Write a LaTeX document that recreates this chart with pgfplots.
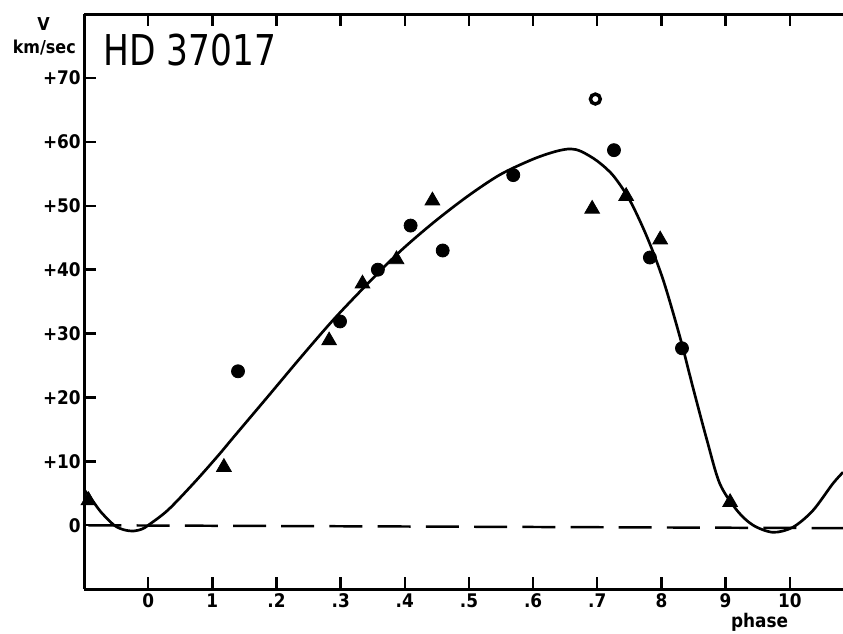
\documentclass[border=0pt]{standalone}
\usepackage{fontspec}
\setmainfont{DejaVu Sans Condensed}
\newfontfamily\titlefont[FakeStretch=0.9]{DejaVu Sans Condensed}
\usepackage{pgfplots}
\pgfplotsset{compat=1.18}

\begin{document}
\begin{tikzpicture}
% page frame: same proportions as the scanned figure
\path[use as bounding box] (-1.495,-0.783) rectangle (13.5,10.48);
\begin{axis}[
    scale only axis,
    width=13.5cm, height=10.23cm,
    xmin=-0.1, xmax=1.083,
    ymin=-10, ymax=80,
    separate axis lines,
    axis x line=box, axis y line=left,
    axis line style={-, line width=1.5pt},
    tick align=inside,
    major tick length=0.21cm,
    tick style={line width=1.2pt, black},
    xtick={0,0.1,0.2,0.3,0.4,0.5,0.6,0.7,0.8,0.9,1.0},
    xticklabels={0,1,.2,.3,.4,.5,.6,.7,8,9,10},
    xtick pos=both,
    ytick={0,10,20,30,40,50,60,70},
    yticklabels={0,+10,+20,+30,+40,+50,+60,+70},
    ytick pos=left,
    ticklabel style={font=\bfseries\fontsize{9.5}{11}\selectfont},
    yticklabel style={inner sep=1.5pt},
    xticklabel style={inner sep=2pt},
    /pgf/number format/assume math mode=true,
    clip=false,
]

% fitted velocity curve
\addplot[smooth, tension=0.5, line width=1.35pt, black] coordinates {
(-0.1,5.6) (-0.085,3.6) (-0.073,2.0) (-0.053,0.0) (-0.038,-0.7)
(-0.023,-0.9) (-0.010,-0.6) (0.0,0.0) (0.031,2.4) (0.072,6.7)
(0.109,10.9) (0.134,13.9) (0.187,20.2) (0.238,26.3) (0.289,32.2)
(0.342,37.8) (0.393,42.9) (0.445,47.4) (0.498,51.5) (0.549,54.9)
(0.600,57.3) (0.635,58.5) (0.658,58.9) (0.675,58.5) (0.700,57.0)
(0.725,54.7) (0.751,50.8) (0.778,45.0) (0.803,38.3) (0.829,29.4)
(0.849,21.6) (0.871,13.3) (0.891,6.5) (0.918,2.3) (0.943,0.0)
(0.974,-1.1) (1.005,-0.3) (1.036,2.3) (1.067,6.5) (1.083,8.3)
};

% zero line
\addplot[line width=1.25pt, black,
    dash pattern=on 16.7pt off 7.7pt, dash phase=22.2pt] coordinates {
(-0.1,0) (1.083,-0.45)
};

% triangles
\addplot[only marks, mark=triangle*, mark size=4.3pt, black] coordinates {
(-0.093,3.9) (0.118,9.1) (0.282,28.9) (0.334,37.8) (0.387,41.6)
(0.443,50.8) (0.692,49.5) (0.745,51.5) (0.798,44.7) (0.907,3.6)
};

% filled circles
\addplot[only marks, mark=*, mark size=3.3pt, black] coordinates {
(0.140,24.1) (0.299,31.9) (0.358,40.0) (0.409,46.9) (0.459,43.0)
(0.569,54.8) (0.726,58.7) (0.782,41.9) (0.832,27.7)
};

% open circle
\addplot[only marks, mark=o, mark size=2.5pt, black,
    mark options={line width=1.75pt}] coordinates {
(0.697,66.7)
};

\node[anchor=base west, inner sep=0, font=\titlefont\fontsize{21.5}{24}\selectfont]
    at (axis cs:-0.070,72) {HD 37017};
\node[inner sep=0, font=\bfseries\fontsize{9}{10}\selectfont]
    at (axis cs:-0.163,78.4) {V};
\node[inner sep=0, font=\bfseries\fontsize{9}{10}\selectfont]
    at (axis cs:-0.162,74.8) {km/sec};
\node[anchor=north, inner sep=0, font=\bfseries\fontsize{9.5}{11}\selectfont]
    at (axis cs:0.953,-13.7) {phase};
\end{axis}
\end{tikzpicture}
\end{document}
